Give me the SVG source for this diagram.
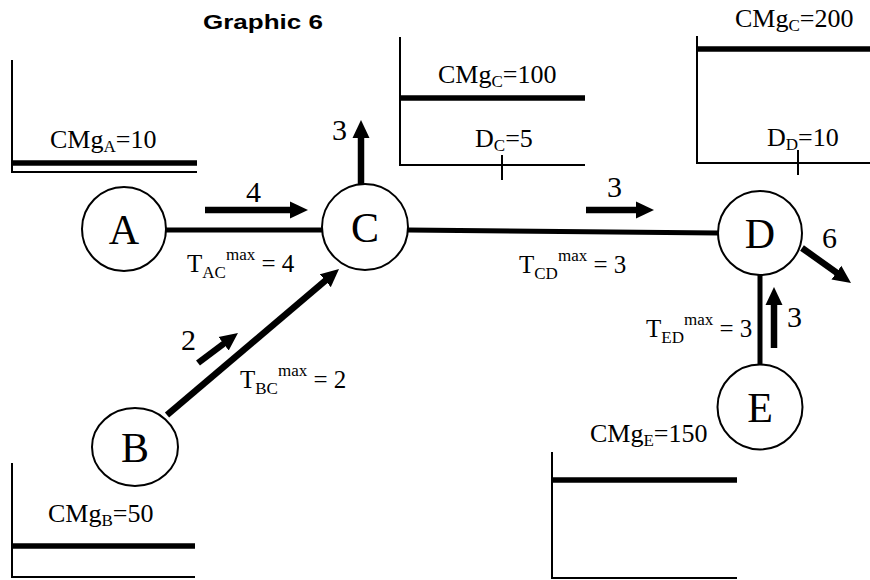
<svg xmlns="http://www.w3.org/2000/svg" width="870" height="580" viewBox="0 0 870 580">
<style>
  text { font-family: "Liberation Serif", "Times New Roman", Times, serif; fill: #000; }
  .title { font-family: "Liberation Sans", Arial, sans-serif; font-weight: bold; font-size: 21px; }
  .lbl { font-size: 26px; }
  .tl { font-size: 25px; }
  .num { font-size: 30px; }
  .node text { font-size: 42px; text-anchor: middle; }
  .node circle, .node ellipse { fill: #fff; stroke: #000; stroke-width: 2; }
  .axis { stroke: #000; stroke-width: 2; fill: none; }
  .curve { stroke: #000; stroke-width: 5.5; fill: none; }
  .edge { stroke: #000; stroke-width: 5; fill: none; }
  .flow { stroke: #000; stroke-width: 6.5; fill: none; marker-end: url(#ah); }
</style>
<defs>
  <marker id="ah" viewBox="0 0 18 18" refX="8" refY="9" markerWidth="18" markerHeight="18" markerUnits="userSpaceOnUse" orient="auto">
    <path d="M0,0.5 L18,9 L0,17.5 z" fill="#000"/>
  </marker>
</defs>

<text class="title" x="203" y="29" textLength="120" lengthAdjust="spacingAndGlyphs">Graphic 6</text>

<!-- Chart A -->
<g id="chartA">
  <path class="axis" d="M12,60 V172 H197"/>
  <line class="curve" x1="12" y1="163" x2="197" y2="163"/>
  <text class="lbl" x="50" y="148">CMg<tspan font-size="17" dy="4">A</tspan><tspan dy="-4">=10</tspan></text>
</g>

<!-- Chart B -->
<g id="chartB">
  <path class="axis" d="M12,463 V577 H195"/>
  <line class="curve" x1="12" y1="546" x2="195" y2="546"/>
  <text class="lbl" x="48" y="522">CMg<tspan font-size="17" dy="4">B</tspan><tspan dy="-4">=50</tspan></text>
</g>

<!-- Chart C -->
<g id="chartC">
  <path class="axis" d="M400,37 V165 H585"/>
  <line class="curve" x1="400" y1="98" x2="585" y2="98"/>
  <line class="axis" x1="502" y1="155" x2="502" y2="180"/>
  <text class="lbl" x="438" y="83">CMg<tspan font-size="17" dy="4">C</tspan><tspan dy="-4">=100</tspan></text>
  <text class="lbl" x="475" y="147">D<tspan font-size="17" dy="4">C</tspan><tspan dy="-4">=5</tspan></text>
</g>

<!-- Chart D -->
<g id="chartD">
  <path class="axis" d="M697,36 V163 H870"/>
  <line class="curve" x1="697" y1="49" x2="870" y2="49"/>
  <line class="axis" x1="798" y1="150" x2="798" y2="175"/>
  <text class="lbl" x="735" y="27">CMg<tspan font-size="17" dy="4">C</tspan><tspan dy="-4">=200</tspan></text>
  <text class="lbl" x="767" y="146">D<tspan font-size="17" dy="4">D</tspan><tspan dy="-4">=10</tspan></text>
</g>

<!-- Chart E -->
<g id="chartE">
  <path class="axis" d="M552,452 V578 H737"/>
  <line class="curve" x1="552" y1="480" x2="737" y2="480"/>
  <text class="lbl" x="590" y="442">CMg<tspan font-size="17" dy="4">E</tspan><tspan dy="-4">=150</tspan></text>
</g>

<!-- Connectors -->
<g id="connectors">
  <line class="edge" x1="166" y1="230" x2="322" y2="230"/>
  <line class="edge" x1="408" y1="230" x2="718" y2="233"/>
  <line class="edge" x1="760" y1="275" x2="760" y2="365"/>
  <line class="flow" x1="167" y1="415" x2="331.4" y2="275.5"/>
  <line class="flow" x1="205" y1="210" x2="298" y2="210"/>
  <line class="flow" x1="586" y1="210" x2="644" y2="210"/>
  <line class="flow" x1="361" y1="184" x2="361" y2="130"/>
  <line class="flow" x1="802" y1="248" x2="842.9" y2="277.2"/>
  <line class="flow" x1="774" y1="348" x2="774" y2="297"/>
  <line class="flow" x1="198" y1="363" x2="230" y2="339"/>
  <text class="num" x="246" y="202">4</text>
  <text class="num" x="607" y="197">3</text>
  <text class="num" x="332" y="140">3</text>
  <text class="num" x="822" y="248">6</text>
  <text class="num" x="787" y="327">3</text>
  <text class="num" x="181" y="350">2</text>
  <text class="tl" x="187" y="272">T<tspan font-size="17" dy="6">AC</tspan><tspan font-size="17" dy="-18">max</tspan><tspan dy="12"> = 4</tspan></text>
  <text class="tl" x="519" y="273">T<tspan font-size="17" dy="6">CD</tspan><tspan font-size="17" dy="-18">max</tspan><tspan dy="12"> = 3</tspan></text>
  <text class="tl" x="240" y="388">T<tspan font-size="17" dy="6">BC</tspan><tspan font-size="17" dy="-18">max</tspan><tspan dy="12"> = 2</tspan></text>
  <text class="tl" x="646" y="337">T<tspan font-size="17" dy="6">ED</tspan><tspan font-size="17" dy="-18">max</tspan><tspan dy="12"> = 3</tspan></text>
</g>

<!-- Nodes -->
<g id="A" class="node"><circle cx="124" cy="229" r="42"/><text x="124" y="244">A</text></g>
<g id="B" class="node"><ellipse cx="135" cy="447" rx="43" ry="39"/><text x="135" y="462">B</text></g>
<g id="C" class="node"><circle cx="365" cy="227" r="43"/><text x="365" y="242">C</text></g>
<g id="D" class="node"><circle cx="760" cy="233" r="42"/><text x="760" y="248">D</text></g>
<g id="E" class="node"><circle cx="760" cy="407" r="42.5"/><text x="760" y="422">E</text></g>
</svg>
